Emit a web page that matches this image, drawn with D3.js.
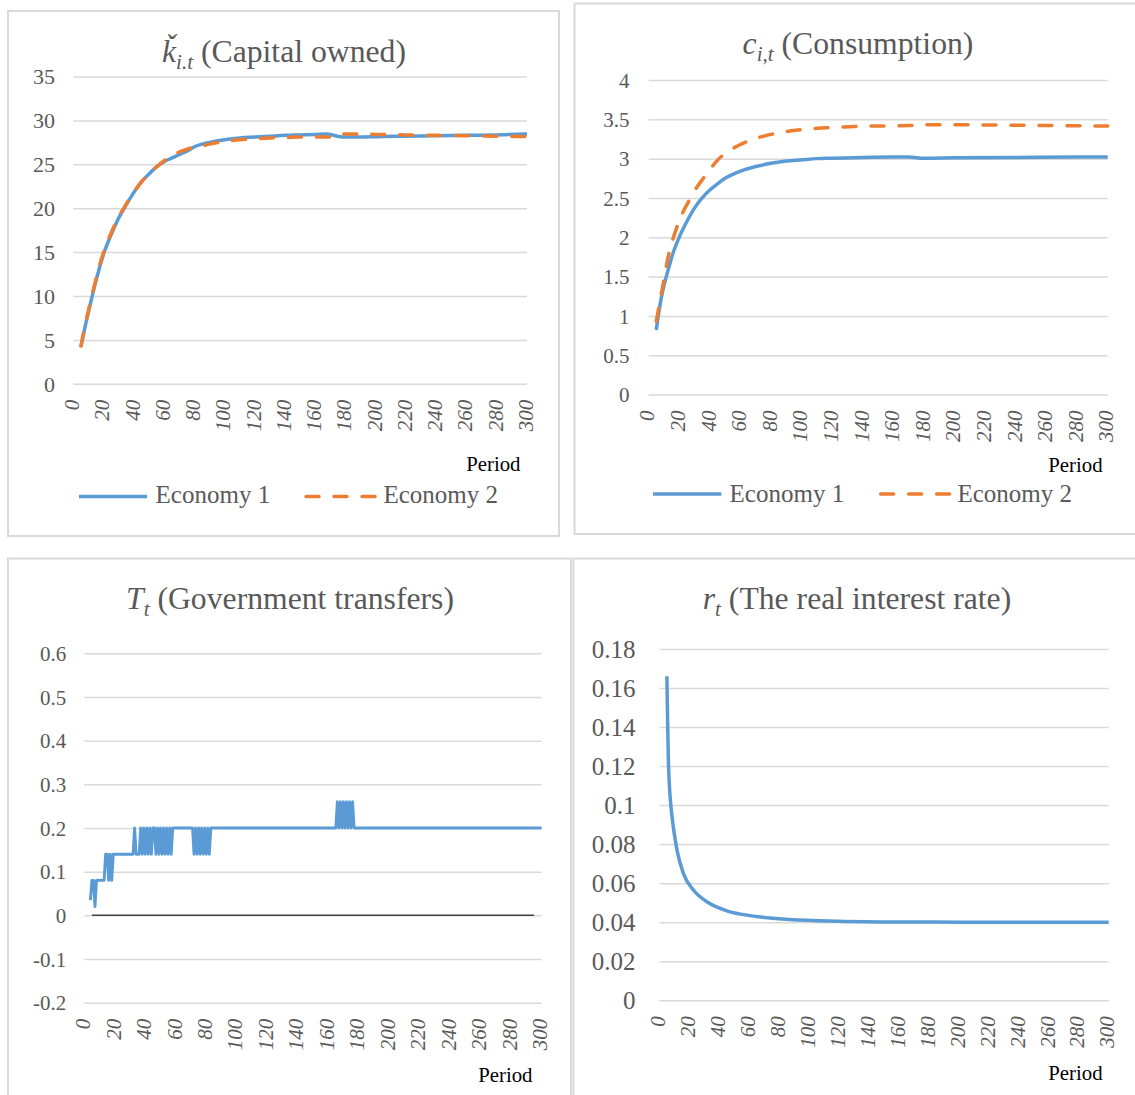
<!DOCTYPE html>
<html><head><meta charset="utf-8">
<script src="https://cdn.jsdelivr.net/npm/d3@7"></script>
<style>body{margin:0;background:#fff}svg{display:block}</style>
</head><body><svg id="c" width="1135" height="1095"></svg>
<script>
// ---------- DATA ----------
const periodTicks = [0,20,40,60,80,100,120,140,160,180,200,220,240,260,280,300];
const seriesNames = ["Economy 1","Economy 2"];

const capitalTicks = [0,5,10,15,20,25,30,35];
const capitalE1 = [[5,4.2],[8,6.7],[10,8.2],[14,11.1],[20,14.8],[25,17.0],[30,18.9],[35,20.4],[40,21.8],[45,23.0],[50,23.9],[55,24.7],[60,25.3],[65,25.7],[70,26.1],[75,26.5],[80,27.0],[85,27.3],[90,27.5],[100,27.8],[110,28.0],[120,28.1],[130,28.2],[140,28.3],[150,28.35],[160,28.4],[168,28.45],[172,28.3],[178,28.1],[190,28.1],[200,28.15],[220,28.2],[240,28.25],[260,28.3],[280,28.35],[300,28.45]];
const capitalE2 = [[5,4.3],[8,6.9],[10,8.4],[14,11.3],[20,15.0],[25,17.2],[30,19.0],[35,20.5],[40,21.8],[45,23.0],[50,23.9],[55,24.7],[60,25.4],[65,25.9],[70,26.4],[75,26.7],[80,27.0],[85,27.1],[90,27.3],[100,27.6],[110,27.8],[120,27.9],[130,28.0],[140,28.05],[150,28.1],[160,28.1],[170,28.1],[175,28.45],[190,28.45],[200,28.4],[220,28.35],[240,28.3],[260,28.25],[280,28.2],[300,28.15]];

const consTicks = [0,0.5,1,1.5,2,2.5,3,3.5,4];
const consE1 = [[5,0.82],[8,1.2],[10,1.38],[13,1.6],[16,1.8],[20,2.0],[25,2.2],[30,2.37],[35,2.5],[40,2.6],[45,2.68],[50,2.75],[55,2.8],[60,2.84],[70,2.9],[80,2.94],[90,2.97],[100,2.985],[110,3.0],[120,3.005],[140,3.015],[160,3.02],[170,3.02],[180,3.005],[200,3.01],[240,3.015],[280,3.02],[300,3.02]];
const consE2 = [[5,0.93],[9,1.35],[13,1.77],[18,2.1],[22,2.3],[26,2.45],[30,2.59],[35,2.73],[40,2.86],[46,3.0],[52,3.09],[59,3.17],[66,3.23],[76,3.29],[86,3.33],[96,3.36],[110,3.385],[120,3.395],[135,3.41],[150,3.415],[170,3.42],[180,3.43],[200,3.43],[240,3.425],[270,3.42],[300,3.415]];

const transferTicks = [-0.2,-0.1,0,0.1,0.2,0.3,0.4,0.5,0.6];
const transfers = [[4,0.035],[5,0.08],[6,0.08],[7,0.02],[8,0.08],[13,0.08],[14,0.14],[15,0.14],[16,0.08],[17,0.14],[18,0.08],[19,0.14],[32,0.14],[33,0.2],[34,0.14],[36,0.14],
 [37,0.2],[38,0.14],[39,0.2],[40,0.14],[41,0.2],[42,0.14],[43,0.2],[44,0.14],[45,0.2],[46,0.2],
 [47,0.14],[48,0.2],[49,0.14],[50,0.2],[51,0.14],[52,0.2],[53,0.14],[54,0.2],[55,0.14],[56,0.2],[57,0.14],[58,0.2],[71,0.2],
 [72,0.14],[73,0.2],[74,0.14],[75,0.2],[76,0.14],[77,0.2],[78,0.14],[79,0.2],[80,0.14],[81,0.2],[82,0.14],[83,0.2],[165,0.2],
 [166,0.26],[167,0.2],[168,0.26],[169,0.2],[170,0.26],[171,0.2],[172,0.26],[173,0.2],[174,0.26],[175,0.2],[176,0.26],[177,0.2],[300,0.2]];
const transfersZero = [[5,0],[295,0]];

const interestTicks = [0,0.02,0.04,0.06,0.08,0.1,0.12,0.14,0.16,0.18];
const interest = [[5,0.166],[5.5,0.142],[6,0.123],[7,0.106],[8,0.097],[10,0.085],[12,0.076],[16,0.065],[23,0.0562],[32,0.0503],[45,0.0458],[63,0.0431],[87,0.0414],[120,0.0405],[160,0.0401],[200,0.04],[300,0.04]];

// ---------- DRAW ----------
const BLUE = "#5B9BD5", ORANGE = "#ED7D31", GRID = "#d9d9d9", TXT = "#595959";
const FONT = "'Liberation Serif','Times New Roman',serif";
const svg = d3.select("#c");
svg.append("rect").attr("width",1135).attr("height",1095).attr("fill","#fff");

function panel(cfg){
  const g = svg.append("g");
  const [bx0,by0,bx1,by1] = cfg.border;
  g.append("rect").attr("x",bx0).attr("y",by0).attr("width",bx1-bx0).attr("height",by1-by0)
    .attr("fill","#fff").attr("stroke",GRID).attr("stroke-width",2);
  const x = d3.scaleLinear().domain([0,300]).range([cfg.l, cfg.r]);
  const y = d3.scaleLinear().domain([cfg.ticks[0], cfg.ticks[cfg.ticks.length-1]]).range([cfg.b, cfg.t]);

  const ya = g.append("g").attr("transform",`translate(${cfg.l},0)`)
    .call(d3.axisLeft(y).tickValues(cfg.ticks).tickSize(-(cfg.r-cfg.l)).tickPadding(cfg.l-cfg.yLab).tickFormat(d=>String(d)));
  ya.select(".domain").remove();
  ya.selectAll("line").attr("stroke",GRID).attr("stroke-width",1.5);
  ya.selectAll("text").attr("font-family",FONT).attr("font-size",cfg.yFont).attr("fill",TXT).attr("dy","0.34em");

  const xa = g.append("g").attr("transform",`translate(0,${cfg.b})`)
    .call(d3.axisBottom(x).tickValues(periodTicks).tickSize(0).tickFormat(d=>String(d)));
  xa.select(".domain").remove();
  xa.selectAll("text").attr("font-family",FONT).attr("font-size",21).attr("font-style","italic").attr("fill",TXT)
    .attr("transform","rotate(-90)").attr("x",-16).attr("y",0).attr("dy","0.25em").attr("text-anchor","end");

  const line = d3.line().x(d=>x(d[0])).y(d=>y(d[1]));
  cfg.series.forEach(s=>{
    g.append("path").datum(s.data).attr("fill","none").attr("stroke",s.color).attr("stroke-width",s.w)
      .attr("stroke-linecap",s.dash?"round":"butt").attr("stroke-linejoin","round")
      .attr("stroke-dasharray",s.dash||null)
      .attr("d",line.curve(s.curve||d3.curveLinear));
  });

  // title
  const tt = g.append("text").attr("x",cfg.titleX).attr("y",cfg.titleY).attr("text-anchor","middle")
    .attr("font-family",FONT).attr("font-size",31.7).attr("fill",TXT);
  tt.append("tspan").attr("font-style","italic").text(cfg.tVar);
  tt.append("tspan").attr("font-style","italic").attr("font-size",21).attr("dy",7).text(cfg.tSub);
  tt.append("tspan").attr("dy",-7).text(" " + cfg.tText);

  g.append("text").attr("x",cfg.perX).attr("y",cfg.perY).attr("text-anchor","end")
    .attr("font-family",FONT).attr("font-size",20.8).attr("fill","#000").text("Period");

  if(cfg.legend){
    const L = cfg.legend;
    L.items.forEach((it,i)=>{
      const s = cfg.series[i];
      g.append("line").attr("x1",it[0]).attr("x2",it[1]).attr("y1",L.y).attr("y2",L.y)
        .attr("stroke",s.color).attr("stroke-width",s.w).attr("stroke-linecap",s.dash?"round":"butt")
        .attr("stroke-dasharray",s.dash||null);
      g.append("text").attr("x",it[2]).attr("y",L.ty).attr("font-family",FONT).attr("font-size",25)
        .attr("fill",TXT).text(seriesNames[i]);
    });
  }
}

const DASH = "13,15";
panel({border:[8,11,559,536], l:73.4, r:527, t:76.5, b:383.8, ticks:capitalTicks, yLab:55, yFont:22,
  tVar:"ǩ", tSub:"i.t", tText:"(Capital owned)", titleX:284, titleY:62, perX:520.5, perY:470.7,
  series:[{data:capitalE1,color:BLUE,w:3.5,curve:d3.curveMonotoneX},{data:capitalE2,color:ORANGE,w:3.5,dash:DASH,curve:d3.curveMonotoneX}],
  legend:{y:496.6, ty:503.4, items:[[79,147,155.6],[306,376,383.5]]}});

panel({border:[574.5,3.5,1145,534], l:648.6, r:1107.7, t:80, b:394.5, ticks:consTicks, yLab:629.5, yFont:21,
  tVar:"c", tSub:"i,t", tText:"(Consumption)", titleX:858, titleY:54, perX:1102.6, perY:472.4,
  series:[{data:consE1,color:BLUE,w:3.5,curve:d3.curveMonotoneX},{data:consE2,color:ORANGE,w:3.5,dash:DASH,curve:d3.curveMonotoneX}],
  legend:{y:494, ty:501.7, items:[[653,721.4,729.6],[880.6,950.2,957.4]]}});

panel({border:[8,558.5,571,1105], l:84.3, r:541.6, t:653.3, b:1002.7, ticks:transferTicks, yLab:66.2, yFont:21,
  tVar:"T", tSub:"t", tText:"(Government transfers)", titleX:290, titleY:609, perX:532.5, perY:1082.3,
  series:[{data:transfersZero,color:"#404040",w:1.5},{data:transfers,color:BLUE,w:2.9}]});

panel({border:[573.5,558.5,1145,1105], l:659.4, r:1108.7, t:649, b:1000.2, ticks:interestTicks, yLab:635.6, yFont:25,
  tVar:"r", tSub:"t", tText:"(The real interest rate)", titleX:857, titleY:609, perX:1102.6, perY:1079.8,
  series:[{data:interest,color:BLUE,w:3.5,curve:d3.curveMonotoneX}]});
</script></body></html>
